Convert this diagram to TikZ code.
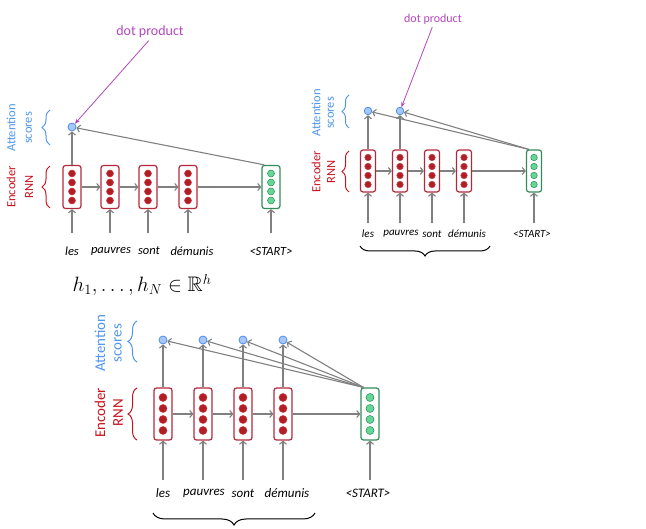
\documentclass[tikz,border=0pt]{standalone}
\usepackage{fontspec}
\usepackage{amssymb}
\setmainfont{Carlito}
\usetikzlibrary{arrows.meta,decorations.pathreplacing,calc}
\definecolor{arrgray}{RGB}{128,128,128}
\definecolor{boxred}{RGB}{180,40,60}
\definecolor{dotred}{RGB}{178,30,36}
\definecolor{dotredline}{RGB}{200,60,70}
\definecolor{boxgreen}{RGB}{50,140,90}
\definecolor{dotgreen}{RGB}{100,215,150}
\definecolor{dotgreenline}{RGB}{40,140,80}
\definecolor{attblue}{RGB}{80,150,235}
\definecolor{circfill}{RGB}{165,200,250}
\definecolor{circline}{RGB}{80,140,230}
\definecolor{encred}{RGB}{200,20,30}
\definecolor{dpcol}{RGB}{180,70,190}
\begin{document}
\begin{tikzpicture}[x=1pt,y=-1pt,
  arr/.style={draw=arrgray, line width=1.1pt, -{Straight Barb[length=3pt,width=7pt]}},
  dparr/.style={draw=dpcol, line width=0.8pt, -{Stealth[length=5pt,width=4pt]}},
  redbox/.style={draw=boxred, line width=1.2pt, rounded corners=2.5pt, fill=white, inner sep=0pt},
  greenbox/.style={draw=boxgreen, line width=1.2pt, rounded corners=2.5pt, fill=white, inner sep=0pt},
  reddot/.style={circle, fill=dotred, draw=dotredline, line width=0.5pt, inner sep=0pt},
  greendot/.style={circle, fill=dotgreen, draw=dotgreenline, line width=0.5pt, inner sep=0pt},
  attc/.style={circle, fill=circfill, draw=circline, line width=0.8pt, inner sep=0pt},
  word/.style={inner sep=1pt, font=\itshape\fontsize{#1}{#1}\selectfont},
  dptext/.style={text=dpcol, inner sep=1pt},
  atttext/.style={text=attblue, rotate=90, inner sep=0pt},
  enctext/.style={text=encred, rotate=90, inner sep=0pt},
  attbrace/.style={draw=attblue, line width=1pt, decorate},
  encbrace/.style={draw=encred, line width=1pt, decorate},
  bbrace/.style={draw=black, line width=1pt, decorate}
]
\useasboundingbox (0,0) rectangle (646,529);

% ================= Panel 1 =================
\foreach \n/\x in {a/72,b/110,c/148,d/188}{
  \node[redbox, minimum width=18pt, minimum height=43pt] (p1\n) at (\x,187) {};
  \foreach \yy [count=\i] in {173.5,182.5,191.5,200.5}
    \node[reddot, minimum size=7pt] (p1\n-\i) at (\x,\yy) {};
}
\node[greenbox, minimum width=18pt, minimum height=43pt] (p1g) at (271,187) {};
\foreach \yy [count=\i] in {173.5,182.5,191.5,200.5}
  \node[greendot, minimum size=7pt] (p1g-\i) at (271,\yy) {};
\node[attc, minimum size=8pt] (s1a) at (72,127) {};

\node[word=12.5] (w1a) at (72,251) {les};
\node[word=12.5] (w1b) at (111,251) {pauvres};
\node[word=12.5] (w1c) at (149,251) {sont};
\node[word=12.5] (w1d) at (192,251) {démunis};
\node[word=12.5] (w1g) at (271,251) {<START>};
\foreach \n/\x in {a/72,b/110,c/148,d/188,g/271}{
  \coordinate (i1\n) at (\x,233);
  \draw[arr] (i1\n) -- (p1\n);
}
\draw[arr] (p1a) -- (p1b);
\draw[arr] (p1b) -- (p1c);
\draw[arr] (p1c) -- (p1d);
\draw[arr] (p1d) -- (p1g);
\draw[arr] (p1a) -- (s1a);
\draw[arr] ($(p1g.north west)+(3,0)$) -- (s1a);

\node[dptext, font=\fontsize{14}{16}\selectfont] (dp1) at (150,32) {dot product};
\draw[dparr, shorten <=2pt] (dp1.south) -- (s1a);

\node[atttext, font=\fontsize{12.5}{14}\selectfont] (at1a) at (11,128) {Attention};
\node[atttext, font=\fontsize{12.5}{14}\selectfont] (at1b) at (29,128) {scores};
\draw[attbrace, decoration={brace, amplitude=8pt}] (50,145) -- (50,110);
\node[enctext, font=\fontsize{12.5}{14}\selectfont] (en1a) at (11,187) {Encoder};
\node[enctext, font=\fontsize{12.5}{14}\selectfont] (en1b) at (29,187) {RNN};
\draw[encbrace, decoration={brace, amplitude=8pt}] (50,208) -- (50,166);

% ================= Math =================
\node[inner sep=0pt, font=\fontsize{21}{25}\selectfont] (math) at (142,285) {$h_1,\ldots,h_N\in\mathbb{R}^h$};

% ================= Panel 2 =================
\foreach \n/\x in {a/368,b/400,c/432,d/464}{
  \node[redbox, minimum width=15pt, minimum height=42pt] (p2\n) at (\x,171) {};
  \foreach \yy [count=\i] in {157.5,166.5,175.5,184.5}
    \node[reddot, minimum size=6.5pt] (p2\n-\i) at (\x,\yy) {};
}
\node[greenbox, minimum width=15pt, minimum height=42pt] (p2g) at (534,171) {};
\foreach \yy [count=\i] in {157.5,166.5,175.5,184.5}
  \node[greendot, minimum size=6.5pt] (p2g-\i) at (534,\yy) {};
\node[attc, minimum size=7.5pt] (s2a) at (368,111) {};
\node[attc, minimum size=7.5pt] (s2b) at (400,111) {};

\node[word=11] (w2a) at (368,234) {les};
\node[word=11] (w2b) at (401,234) {pauvres};
\node[word=11] (w2c) at (432,234) {sont};
\node[word=11] (w2d) at (467,234) {démunis};
\node[word=11] (w2g) at (532,234) {<START>};
\foreach \n/\x in {a/368,b/400,c/432,d/464,g/534}{
  \coordinate (i2\n) at (\x,223);
  \draw[arr] (i2\n) -- (p2\n);
}
\draw[arr] (p2a) -- (p2b);
\draw[arr] (p2b) -- (p2c);
\draw[arr] (p2c) -- (p2d);
\draw[arr] (p2d) -- (p2g);
\draw[arr] (p2a) -- (s2a);
\draw[arr] (p2b) -- (s2b);
\coordinate (o2) at ($(p2g.north west)+(3,0)$);
\draw[arr] (o2) -- (s2a);
\draw[arr] (o2) -- (s2b);

\node[dptext, font=\fontsize{12}{14}\selectfont] (dp2) at (433,19) {dot product};
\draw[dparr, shorten <=2pt] (dp2.south) -- (s2b);

\node[atttext, font=\fontsize{12.5}{14}\selectfont] (at2a) at (316,113) {Attention};
\node[atttext, font=\fontsize{12.5}{14}\selectfont] (at2b) at (331,113) {scores};
\draw[attbrace, decoration={brace, amplitude=7pt}] (349,128) -- (349,95);
\node[enctext, font=\fontsize{12.5}{14}\selectfont] (en2a) at (316,172) {Encoder};
\node[enctext, font=\fontsize{12.5}{14}\selectfont] (en2b) at (331,172) {RNN};
\draw[encbrace, decoration={brace, amplitude=7pt}] (349,192) -- (349,151);
\draw[bbrace, decoration={brace, amplitude=10pt, mirror}] (360,246) -- (490,246);

% ================= Panel 3 =================
\foreach \n/\x in {a/163,b/203,c/243,d/283}{
  \node[redbox, minimum width=18pt, minimum height=52pt] (p3\n) at (\x,414) {};
  \foreach \yy [count=\i] in {397.5,408.5,419.5,430.5}
    \node[reddot, minimum size=8pt] (p3\n-\i) at (\x,\yy) {};
}
\node[greenbox, minimum width=18pt, minimum height=52pt] (p3g) at (370,414) {};
\foreach \yy [count=\i] in {397.5,408.5,419.5,430.5}
  \node[greendot, minimum size=8pt] (p3g-\i) at (370,\yy) {};
\foreach \n/\x in {a/163,b/203,c/243,d/283}
  \node[attc, minimum size=8pt] (s3\n) at (\x,340) {};

\node[word=13] (w3a) at (163,493) {les};
\node[word=13] (w3b) at (204,493) {pauvres};
\node[word=13] (w3c) at (243,493) {sont};
\node[word=13] (w3d) at (287,493) {démunis};
\node[word=13] (w3g) at (368,493) {<START>};
\foreach \n/\x in {a/163,b/203,c/243,d/283,g/370}{
  \coordinate (i3\n) at (\x,480);
  \draw[arr] (i3\n) -- (p3\n);
}
\draw[arr] (p3a) -- (p3b);
\draw[arr] (p3b) -- (p3c);
\draw[arr] (p3c) -- (p3d);
\draw[arr] (p3d) -- (p3g);
\coordinate (o3) at ($(p3g.north west)+(3,0)$);
\foreach \n in {a,b,c,d}{
  \draw[arr] (p3\n) -- (s3\n);
  \draw[arr] (o3) -- (s3\n);
}

\node[atttext, font=\fontsize{15}{17}\selectfont] (at3a) at (100,343) {Attention};
\node[atttext, font=\fontsize{15}{17}\selectfont] (at3b) at (118,343) {scores};
\draw[attbrace, decoration={brace, amplitude=9pt}] (137,362) -- (137,321);
\node[enctext, font=\fontsize{15}{17}\selectfont] (en3a) at (100,413) {Encoder};
\node[enctext, font=\fontsize{15}{17}\selectfont] (en3b) at (118,413) {RNN};
\draw[encbrace, decoration={brace, amplitude=9pt}] (137,440) -- (137,388);
\draw[bbrace, decoration={brace, amplitude=12pt, mirror}] (153,513) -- (315,513);
\end{tikzpicture}
\end{document}
